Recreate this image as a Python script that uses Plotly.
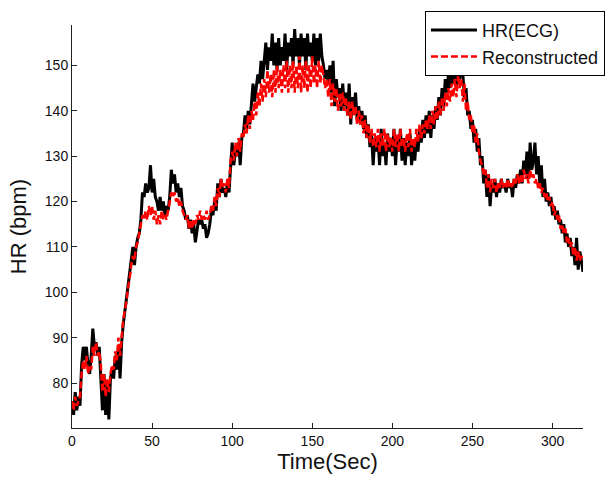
import plotly.graph_objects as go

time_sec = list(range(0, 320))

hr_ecg = [
    76, 73, 78, 74, 77, 75, 84, 88, 85, 88,
    84, 82, 86, 92, 88, 89, 86, 88, 81, 74,
    82, 73, 80, 72, 81, 83, 81, 86, 83, 88,
    81, 89, 93, 96, 98, 101, 104, 107, 110, 106,
    110, 112, 113, 116, 122, 121, 124, 122, 123, 128,
    122, 125, 121, 120, 118, 121, 118, 120, 117, 119,
    118, 121, 127, 124, 126, 122, 124, 121, 123, 119,
    118, 116, 117, 114, 116, 113, 115, 111, 114, 116,
    115, 116, 114, 115, 112, 113, 115, 118, 117, 120,
    118, 124, 121, 125, 122, 123, 121, 124, 122, 128,
    133, 128, 131, 130, 133, 128, 134, 135, 139, 136,
    140, 137, 141, 146, 142, 145, 148, 146, 151, 147,
    151, 155, 149, 154, 151, 157, 150, 155, 149, 156,
    150, 154, 151, 157, 149, 155, 152, 156, 150, 158,
    152, 156, 150, 157, 152, 156, 149, 157, 152, 155,
    151, 157, 150, 156, 151, 157, 152, 150, 147, 149,
    146, 150, 144, 151, 141, 147, 143, 145, 140, 146,
    141, 144, 139, 146, 137, 143, 140, 144, 138, 141,
    137, 140, 136, 139, 134, 137, 132, 135, 128, 134,
    131, 134, 128, 136, 130, 133, 128, 135, 131, 134,
    130, 136, 128, 134, 131, 136, 129, 134, 128, 133,
    130, 135, 128, 133, 129, 134, 131, 136, 133, 138,
    134, 139, 135, 140, 134, 139, 136, 141, 138, 143,
    139, 145, 141, 147, 144, 148, 145, 149, 146, 148,
    145, 149, 147, 150, 148, 143, 145, 139, 140, 136,
    138, 133, 136, 131, 134, 128, 130, 124, 127, 121,
    126, 119, 124, 122, 125, 121, 124, 122, 125, 123,
    124, 122, 125, 123, 124, 121, 125, 123, 126, 124,
    127, 124, 129, 126, 131, 125, 133, 127, 129, 133,
    126, 130, 124, 128, 121, 125, 120, 122, 119, 121,
    117, 119, 116, 118, 115, 116, 113, 115, 111, 113,
    110, 112, 108, 110, 106, 112, 105, 109, 107, 104.5,
]

hr_reconstructed = [
    76, 74, 77, 75, 76, 77, 82, 85, 83, 86,
    82, 84, 83, 88, 86, 89, 86, 87, 84, 78,
    82, 77, 81, 78, 82, 84, 83, 87, 85, 90,
    86, 90, 94, 96, 98, 101, 103, 106, 108, 107,
    110, 111, 113, 115, 117, 116, 118, 116, 119, 117,
    119, 116, 118, 115, 117, 115, 118, 116, 117, 116,
    118, 120, 122, 121, 122, 120, 121, 119, 120, 118,
    117, 116, 117, 114, 116, 114, 116, 115, 117, 116,
    118, 116, 117, 116, 118, 116, 117, 119, 118, 121,
    119, 123, 121, 125, 123, 124, 122, 125, 123, 129,
    131, 129, 133, 130, 134, 131, 135, 134, 137, 135,
    139, 136, 140, 138, 142, 139, 144, 141, 146, 142,
    147, 143, 149, 144, 148, 143, 149, 144, 150, 145,
    149, 144, 150, 145, 151, 144, 150, 145, 151, 144,
    150, 145, 152, 144, 150, 145, 151, 144, 150, 145,
    152, 146, 150, 145, 151, 146, 150, 147, 145, 147,
    143, 147, 141, 146, 142, 145, 140, 144, 141, 144,
    140, 143, 139, 142, 138, 142, 139, 141, 137, 140,
    137, 139, 135, 138, 134, 137, 133, 136, 132, 135,
    132, 136, 131, 135, 132, 136, 131, 135, 132, 134,
    131, 136, 132, 135, 131, 136, 132, 134, 131, 135,
    132, 136, 131, 134, 132, 136, 133, 137, 134, 137,
    135, 138, 136, 139, 136, 140, 137, 141, 138, 142,
    139, 143, 140, 144, 141, 145, 142, 146, 143, 147,
    143, 148, 145, 147, 142, 146, 140, 142, 138, 139,
    135, 137, 133, 135, 131, 129, 128, 126, 127, 123,
    126, 122, 125, 123, 125, 122, 124, 123, 125, 123,
    124, 123, 125, 123, 124, 123, 125, 124, 126, 124,
    126, 124, 127, 125, 126, 124, 127, 125, 126, 124,
    125, 123, 124, 122, 123, 121, 122, 120, 121, 119,
    120, 117, 118, 116, 117, 114, 115, 113, 114, 111,
    112, 110, 111, 108, 110, 107, 109, 107, 108, 107,
]

x_ticks = [0, 50, 100, 150, 200, 250, 300]
y_ticks = [80, 90, 100, 110, 120, 130, 140, 150]

FONT = "Liberation Sans, Arial, sans-serif"
TXT = "#111111"

fig = go.Figure()
fig.add_trace(go.Scatter(
    x=time_sec, y=hr_ecg, mode="lines", name="HR(ECG)",
    line=dict(color="black", width=3),
))
fig.add_trace(go.Scatter(
    x=time_sec, y=hr_reconstructed, mode="lines", name="Reconstructed",
    line=dict(color="#ff0000", width=2.5, dash="7px,3px"),
))

fig.update_layout(
    width=606, height=478,
    margin=dict(l=72, r=23, t=25, b=50, autoexpand=False),
    paper_bgcolor="white", plot_bgcolor="white",
    font=dict(family=FONT, color=TXT),
    showlegend=True,
    legend=dict(
        x=1.043, xanchor="right", y=1.035, yanchor="top",
        bgcolor="white", bordercolor="black", borderwidth=1,
        font=dict(size=18, family=FONT, color=TXT),
        tracegroupgap=0, itemwidth=46,
    ),
)
fig.update_xaxes(
    range=[0, 319], tickvals=x_ticks, ticks="inside", ticklen=5,
    tickcolor="#222", showline=True, linecolor="#222", linewidth=1,
    showgrid=False, zeroline=False, mirror=False, automargin=False,
    tickfont=dict(size=14, family=FONT, color=TXT),
    title=dict(text="Time(Sec)", font=dict(size=22, family=FONT, color=TXT), standoff=5),
)
fig.update_yaxes(
    range=[70.1, 158.9], tickvals=y_ticks, ticks="inside", ticklen=5,
    tickcolor="#222", showline=True, linecolor="#222", linewidth=1,
    showgrid=False, zeroline=False, mirror=False, automargin=False,
    tickfont=dict(size=14, family=FONT, color=TXT),
    title=dict(text="HR (bpm)", font=dict(size=22, family=FONT, color=TXT), standoff=12),
)

fig.write_html(
    "out.html",
    config={"displayModeBar": False},
    post_script="document.body.style.margin='0';document.body.style.overflow='hidden';",
)
